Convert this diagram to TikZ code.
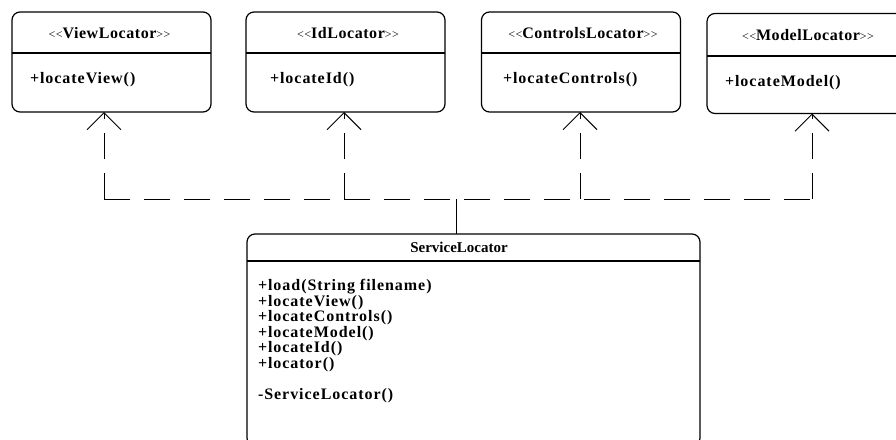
\documentclass[tikz,border=0pt]{standalone}
\usepackage{fontspec}
\setmainfont{Liberation Serif}
\usetikzlibrary{arrows.meta}
\newcommand{\stype}[1]{{\mdseries\fontsize{12}{12}\selectfont<\kern0.5pt<}#1{\mdseries\fontsize{12}{12}\selectfont>\kern0.5pt>}}
\begin{document}
\begin{tikzpicture}[x=1pt,y=-1pt,inner sep=0pt,outer sep=0pt,line width=1.2pt,
classbox/.style={draw,rectangle,rounded corners=8pt,minimum width=199pt,minimum height=100pt},
stereo/.style={font=\fontsize{16}{16}\selectfont\bfseries\addfontfeatures{LetterSpace=3.5}},
title/.style={font=\fontsize{15}{16}\selectfont\bfseries},
method/.style={anchor=west,font=\fontsize{16}{16}\selectfont\bfseries\addfontfeatures{LetterSpace=6}},
dep/.style={line width=1pt,dash pattern=on 26pt off 14pt,-{Straight Barb[length=17pt,width=34pt]}},
bus/.style={line width=1pt,dash pattern=on 26pt off 14pt}]
\useasboundingbox (0,0) rectangle (896,439);
\clip (0,0) rectangle (896,439);
\draw (111.5,62) node[classbox] (view) {};
\draw (109.5,33) node[stereo] (viewname) {\stype{ViewLocator}};
\draw (view.west |- 0,53) -- (view.east |- 0,53);
\draw (30,80) node[method] (viewop) {+locateView()};
\draw (345.5,62) node[classbox] (id) {};
\draw (348,33) node[stereo] (idname) {\stype{IdLocator}};
\draw (id.west |- 0,53) -- (id.east |- 0,53);
\draw (270,80) node[method] (idop) {+locateId()};
\draw (581,62) node[classbox] (ctrl) {};
\draw (583,33) node[stereo] (ctrlname) {\stype{ControlsLocator}};
\draw (ctrl.west |- 0,53) -- (ctrl.east |- 0,53);
\draw (503,80) node[method] (ctrlop) {+locateControls()};
\draw (812,63.5) node[classbox,minimum width=210pt] (model) {};
\draw (808,35) node[stereo] (modelname) {\stype{ModelLocator}};
\draw (model.west |- 0,56) -- (model.east |- 0,56);
\draw (725,83) node[method] (modelop) {+locateModel()};
\draw (473.5,340) node[classbox,minimum width=453pt,minimum height=212pt] (sl) {};
\draw (459,247) node[title] (slname) {ServiceLocator};
\draw (sl.west |- 0,261) -- (sl.east |- 0,261);
\draw (258,287) node[method] (slop1) {+load(String filename)};
\draw (258,302.5) node[method] (slop2) {+locateView()};
\draw (258,318) node[method] (slop3) {+locateControls()};
\draw (258,333.5) node[method] (slop4) {+locateModel()};
\draw (258,349) node[method] (slop5) {+locateId()};
\draw (258,364.5) node[method] (slop6) {+locator()};
\draw (258,395.5) node[method] (slop7) {-ServiceLocator()};
\coordinate (hub) at (456,199);
\coordinate (jv) at (104,199);
\coordinate (ji) at (344,199);
\coordinate (jc) at (580,199);
\coordinate (jm) at (812,199);
\draw[line width=1pt] (sl.north -| hub) -- (hub);
\draw[bus] (jv) -- (jm);
\draw[dep] (jv) -- (view.south -| jv);
\draw[dep] (ji) -- (id.south -| ji);
\draw[dep] (jc) -- (ctrl.south -| jc);
\draw[dep] (jm) -- (model.south -| jm);
\end{tikzpicture}
\end{document}
